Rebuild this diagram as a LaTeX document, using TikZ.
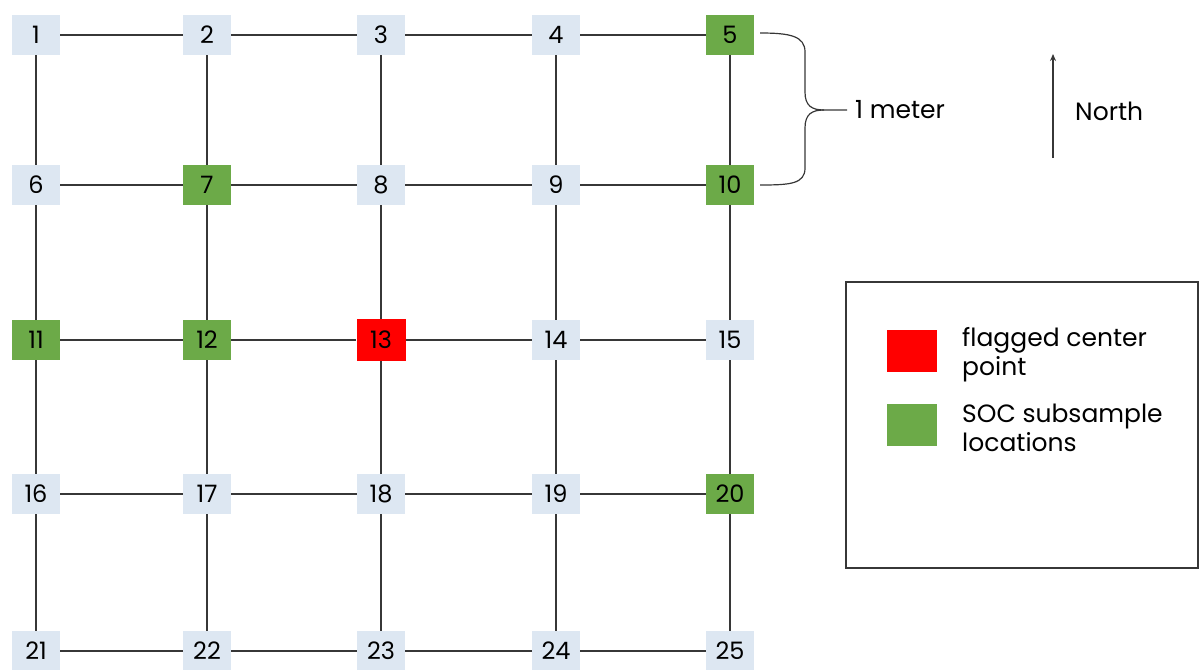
\documentclass[tikz,border=0pt]{standalone}
\usepackage{fontspec}
\setmainfont{Poppins}
\usetikzlibrary{arrows.meta}
\definecolor{cellblue}{RGB}{221,231,242}
\definecolor{socgreen}{RGB}{108,170,72}
\definecolor{gridline}{RGB}{55,55,55}
\tikzset{
  cell/.style={rectangle, minimum width=48pt, minimum height=40pt, inner sep=0pt,
    font=\fontsize{24}{26}\selectfont, text=black},
  plain/.style={cell, fill=cellblue},
  soc/.style={cell, fill=socgreen},
  flag/.style={cell, fill=red, minimum width=49pt, minimum height=42pt},
  link/.style={draw=gridline, line width=1.4pt},
  lbl/.style={font=\fontsize{25}{28}\selectfont, inner sep=0pt, anchor=west},
}
\begin{document}
\begin{tikzpicture}[x=1pt,y=-1pt]
\useasboundingbox (0,0) rectangle (1204,669);

% sampling grid: columns at x = 36, 207, 381, 556, 730; rows at y = 35, 185, 340, 494, 651
\node[plain] (n1)  at (36,35)  {1};
\node[plain] (n2)  at (207,35) {2};
\node[plain] (n3)  at (381,35) {3};
\node[plain] (n4)  at (556,35) {4};
\node[soc]   (n5)  at (730,35) {5};

\node[plain] (n6)  at (36,185)  {6};
\node[soc]   (n7)  at (207,185) {7};
\node[plain] (n8)  at (381,185) {8};
\node[plain] (n9)  at (556,185) {9};
\node[soc]   (n10) at (730,185) {10};

\node[soc]   (n11) at (36,340)  {11};
\node[soc]   (n12) at (207,340) {12};
\node[flag]  (n13) at (381,340) {13};
\node[plain] (n14) at (556,340) {14};
\node[plain] (n15) at (730,340) {15};

\node[plain] (n16) at (36,494)  {16};
\node[plain] (n17) at (207,494) {17};
\node[plain] (n18) at (381,494) {18};
\node[plain] (n19) at (556,494) {19};
\node[soc]   (n20) at (730,494) {20};

\node[plain] (n21) at (36,651)  {21};
\node[plain] (n22) at (207,651) {22};
\node[plain] (n23) at (381,651) {23};
\node[plain] (n24) at (556,651) {24};
\node[plain] (n25) at (730,651) {25};

% horizontal links
\foreach \r in {0,...,4}{
  \foreach \c in {1,...,4}{
    \pgfmathtruncatemacro{\a}{5*\r+\c}
    \pgfmathtruncatemacro{\b}{\a+1}
    \draw[link] (n\a) -- (n\b);
  }
}
% vertical links
\foreach \a in {1,...,20}{
  \pgfmathtruncatemacro{\b}{\a+5}
  \draw[link] (n\a) -- (n\b);
}

% scale bracket
\coordinate (brtop) at (760,33);
\coordinate (brbot) at (760,185);
\coordinate (brmid) at (824,110);
\coordinate (brtip) at (847,110);
\draw[link, line width=1.2pt] (brtop) .. controls (790,33) and (805,36) .. (805,52)
  -- (805,92) .. controls (805,106) and (812,110) .. (brmid) -- (brtip);
\draw[link, line width=1.2pt] (brmid) .. controls (812,110) and (805,114) .. (805,128)
  -- (805,168) .. controls (805,184) and (790,185) .. (brbot);
\node[lbl] (meter) at (855,110) {1 meter};

% north arrow
\coordinate (nbase) at (1053,158);
\coordinate (ntip) at (1053,54);
\draw[gridline, line width=1.2pt, -{Stealth[length=7pt,width=6pt]}] (nbase) -- (ntip);
\node[lbl] (north) at (1075,111) {North};

% legend
\node[draw=gridline, line width=1.2pt, minimum width=352pt, minimum height=286pt,
      inner sep=0pt] (legend) at (1022,425) {};
\node[rectangle, fill=red, minimum width=50pt, minimum height=42pt, inner sep=0pt] (keyflag) at (912,351) {};
\node[rectangle, fill=socgreen, minimum width=50pt, minimum height=42pt, inner sep=0pt] (keysoc) at (912,425) {};
\node[lbl, align=left, font=\fontsize{25}{29}\selectfont] (txtflag) at (962,355) {flagged center\\point};
\node[lbl, align=left, font=\fontsize{25}{29}\selectfont] (txtsoc) at (962,428) {SOC subsample\\locations};
\end{tikzpicture}
\end{document}
